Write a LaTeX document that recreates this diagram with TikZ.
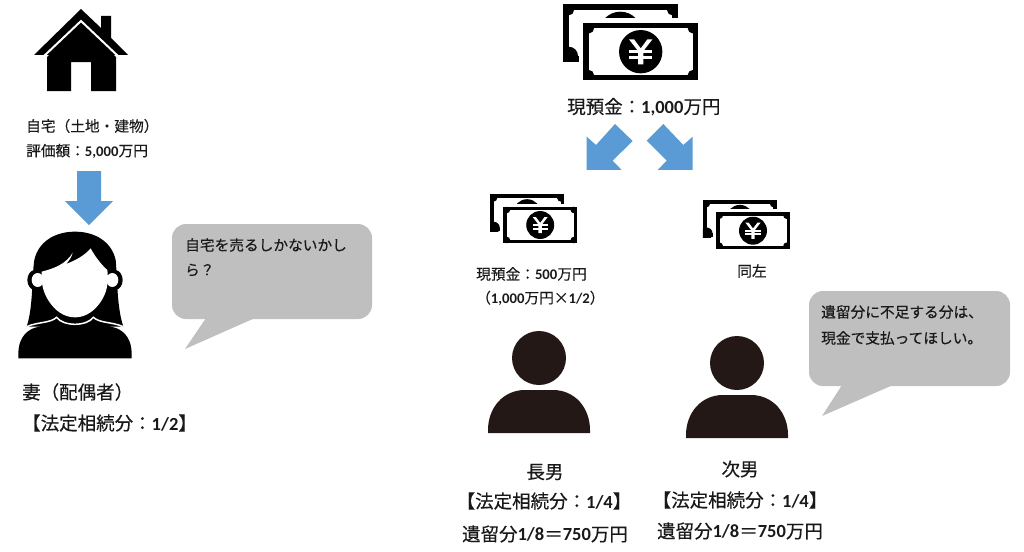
\documentclass[tikz,border=0pt]{standalone}
\usepackage{fontspec}
\setmainfont{Noto Sans CJK JP}[RawFeature={embolden=0.35}]
\newfontfamily\digitfont{Carlito}
\newcommand{\numtxt}[1]{{\digitfont\bfseries #1}}
\definecolor{arrowblue}{HTML}{5B9BD5}
\definecolor{bubblegray}{HTML}{BFBFBF}
\definecolor{persondark}{HTML}{231815}
\tikzset{
  txtS/.style={inner sep=0pt, text=black!90, font=\fontsize{14.7}{14.7}\selectfont},
  txtM/.style={inner sep=0pt, text=black!90, font=\fontsize{18.5}{18.5}\selectfont},
  bubble/.style={fill=bubblegray, rounded corners=14pt},
  blockarrow/.style={fill=arrowblue},
  bill/.pic={
    \fill[black] (-233,-142) rectangle (111,30);
    \fill[white] (-216,-125) rectangle (95,13);
    \begin{scope}
      \clip (-233,-142) rectangle (111,30);
      \fill[black] (-216,13) circle (28);
      \fill[black] (-216,-125) circle (16);
      \fill[black] (95,-125) circle (16);
    \end{scope}
    \fill[black] (-61,-56) circle (64);
    \fill[white] (-186,-100) rectangle (187,100);
    \fill[black] (-172,-85) rectangle (173,86);
    \fill[white] (-155,-70) rectangle (156,70);
    \foreach \cx/\cy in {-155/-70, 156/-70, -155/70, 156/70}
      \fill[black] (\cx,\cy) circle (15);
    \fill[black] (0,0) circle (65);
    \fill[white] (-35,-37) -- (-20,-37) -- (0,-10) -- (20,-37) -- (35,-37) -- (8,-2) -- (8,38) -- (-8,38) -- (-8,-2) -- cycle;
    \fill[white] (-35,-4) rectangle (35,5);
    \fill[white] (-35,13) rectangle (35,22);
  },
  person/.pic={
    \fill[persondark] (0,0) ellipse (27 and 27);
    \fill[persondark] (-51,75) -- (-51,72) .. controls (-51,50) and (-36,32) .. (-14,32) -- (14,32) .. controls (36,32) and (51,50) .. (51,72) -- (51,75) -- cycle;
  }
}
\begin{document}
\begin{tikzpicture}[x=1pt, y=-1pt]
    \useasboundingbox (0,0) rectangle (1024,551);

    % house
    \fill[black] (34,55) -- (81,9) -- (101,28) -- (101,16) -- (111,16) -- (111,38) -- (128,55) -- cycle;
    \draw[white, line width=2pt] (43,57) -- (81,21) -- (119,57);
    \fill[black] (47,91) -- (47,57) -- (81,24) -- (116,57) -- (116,91) -- (91,91) -- (91,62) -- (71,62) -- (71,91) -- cycle;
    \node[txtS, anchor=west] (homeLabel) at (26,126) {自宅（土地・建物）};
    \node[txtS, anchor=west] (homeValue) at (26,151) {評価額：\numtxt{5,000}万円};
    \fill[blockarrow] (77,171) -- (101,171) -- (101,201) -- (113,201) -- (89,225) -- (65,201) -- (77,201) -- cycle;

    % wife
    \begin{scope}[shift={(0,210)}, scale=1/3]
        \fill[black] (80,350) .. controls (100,290) and (95,200) .. (103,150) .. controls (115,95) and (165,65) .. (225,65) .. controls (285,65) and (335,95) .. (347,150) .. controls (352,200) and (350,290) .. (370,350) -- cycle;
        \fill[black] (105,210) ellipse (23 and 30);
        \fill[black] (345,210) ellipse (23 and 30);
        \fill[white] (113,210) ellipse (18 and 21);
        \fill[white] (337,210) ellipse (18 and 21);
        \fill[white] (125,185) .. controls (165,175) and (200,160) .. (218,128) .. controls (215,140) and (208,152) .. (198,162) .. controls (230,150) and (255,135) .. (272,115) .. controls (285,140) and (305,165) .. (322,180) .. controls (328,230) and (315,260) .. (295,285) .. controls (275,310) and (250,322) .. (225,322) .. controls (200,322) and (175,310) .. (155,285) .. controls (135,260) and (122,230) .. (125,185) -- cycle;
        \fill[black] (55,445) -- (55,430) .. controls (55,390) and (75,365) .. (100,355) .. controls (130,345) and (160,340) .. (172,332) .. controls (190,350) and (260,350) .. (278,332) .. controls (290,340) and (320,345) .. (350,355) .. controls (375,365) and (395,390) .. (395,430) -- (395,445) -- cycle;
        \draw[white, line width=1.5pt] (80,350) .. controls (115,335) and (150,340) .. (170,322) .. controls (190,350) and (260,350) .. (280,322) .. controls (300,340) and (335,335) .. (370,350);
    \end{scope}
    \node[txtM, anchor=west] (wifeName) at (22,392) {妻（配偶者）};
    \node[txtM, anchor=west] (wifeShare) at (22,423) {【法定相続分：\numtxt{1/2}】};

    % wife bubble
    \fill[bubble] (172,224) rectangle (372,319);
    \fill[bubblegray] (206,318) -- (185,349) -- (255,318) -- cycle;
    \node[txtS, anchor=west] (wifeSay1) at (185,245) {自宅を売るしかないかし};
    \node[txtS, anchor=west] (wifeSay2) at (185,270) {ら？};

    % money
    \pic[scale=1/3] at (640.7,51.7) {bill};
    \node[txtM, anchor=west] (cashTotal) at (567,107) {現預金：\numtxt{1,000}万円};
    \begin{scope}[shift={(470,0)}, scale=1/3]
        \fill[blockarrow] (350,510) -- (350,410) -- (378,435) -- (435,372) -- (488,423) -- (428,482) -- (455,510) -- cycle;
        \fill[blockarrow] (668,510) -- (668,410) -- (640,435) -- (580,372) -- (530,422) -- (590,482) -- (563,510) -- cycle;
    \end{scope}
    \pic[scale=0.215] at (540.2,225) {bill};
    \pic[scale=0.215] at (753,230.7) {bill};
    \node[txtS, anchor=west] (cashHalf) at (476,274) {現預金：\numtxt{500}万円};
    \node[txtS, anchor=west] (cashCalc) at (476,298) {（\numtxt{1,000}万円×\numtxt{1/2}）};
    \node[txtS] (cashSame) at (752,271) {同左};

    % sons
    \pic at (539,358) {person};
    \pic at (737,363) {person};
    \node[txtM] (son1Name) at (545,472) {長男};
    \node[txtM] (son1Share) at (544,501) {【法定相続分：\numtxt{1/4}】};
    \node[txtM] (son1Due) at (545,534) {遺留分\numtxt{1/8}＝\numtxt{750}万円};
    \node[txtM] (son2Name) at (740,469) {次男};
    \node[txtM] (son2Share) at (740,500) {【法定相続分：\numtxt{1/4}】};
    \node[txtM] (son2Due) at (740,531) {遺留分\numtxt{1/8}＝\numtxt{750}万円};

    % son bubble
    \fill[bubble] (809,291) rectangle (1010,386);
    \fill[bubblegray] (842,385) -- (822,416) -- (893,385) -- cycle;
    \node[txtS, anchor=west] (sonSay1) at (821,312) {遺留分に不足する分は、};
    \node[txtS, anchor=west] (sonSay2) at (821,338) {現金で支払ってほしい。};
\end{tikzpicture}
\end{document}
